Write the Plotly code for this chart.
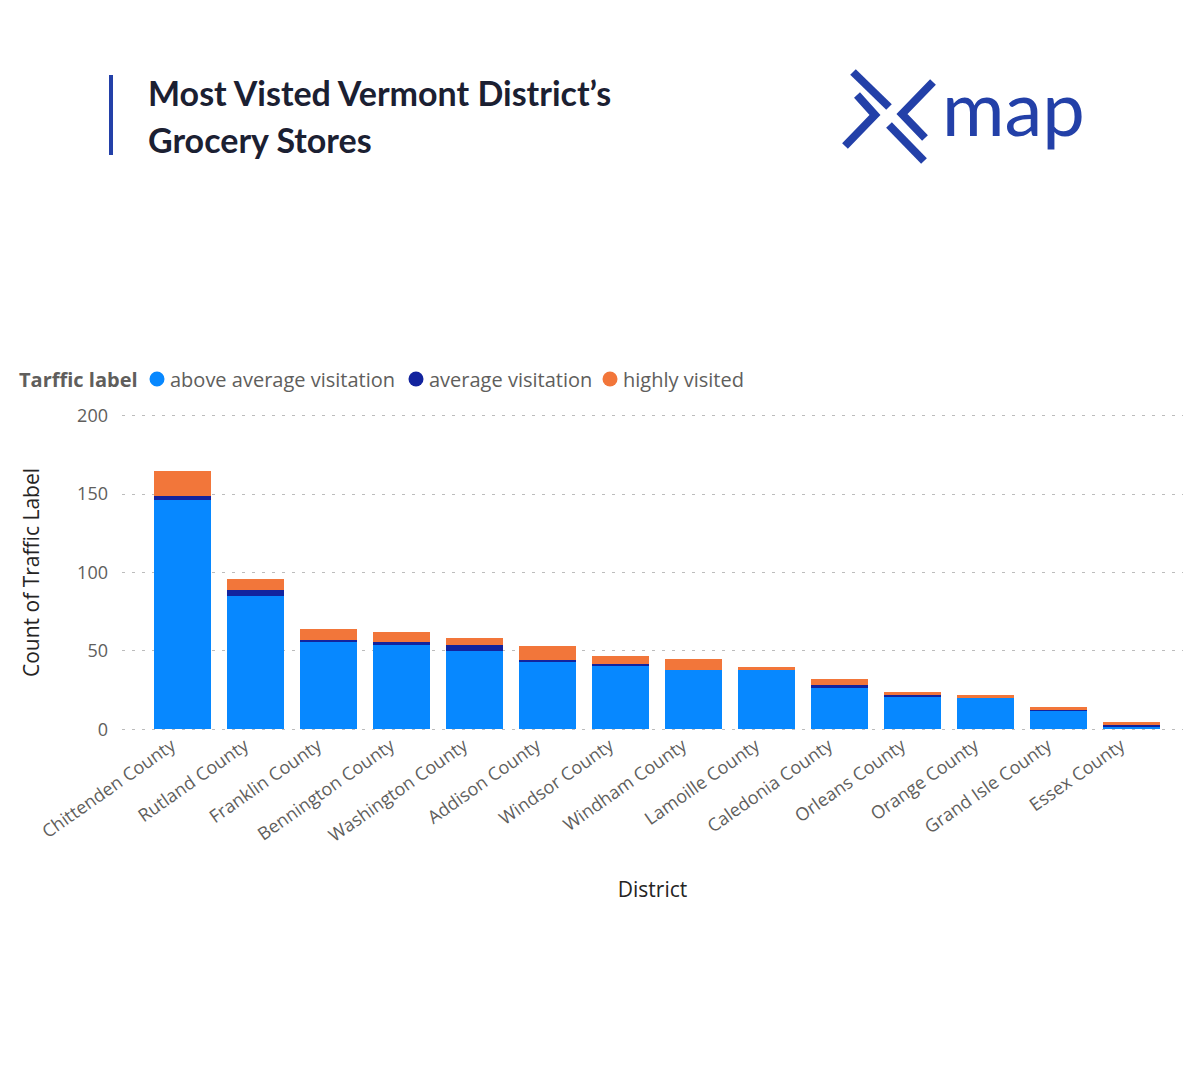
import plotly.graph_objects as go

# districts and counts per traffic label
districts = ['Chittenden County', 'Rutland County', 'Franklin County', 'Bennington County',
             'Washington County', 'Addison County', 'Windsor County', 'Windham County',
             'Lamoille County', 'Caledonia County', 'Orleans County', 'Orange County',
             'Grand Isle County', 'Essex County']
above_avg = [146, 85, 56, 54, 50, 43, 41, 38, 38, 27, 21, 20, 12, 2]
average = [3, 4, 1, 2, 4, 1, 1, 0, 0, 1, 1, 0, 1, 1]
highly = [16, 7, 7, 6, 4, 9, 5, 7, 2, 4, 2, 2, 1, 2]

labels = ['above average visitation', 'average visitation', 'highly visited']
colors = ['#0788FF', '#12239E', '#F2763A']

# page puts the figure 8px in from the corner, so work in screen pixels and shift
OFF = 8
W, H = 1200, 1080
L, R, T, B = 122 - OFF, 1183 - OFF, 414 - OFF, 731 - OFF


def px(x):
    return (x - OFF - L) / (R - L)


def py(y):
    return (B - (y - OFF)) / (B - T)


fig = go.Figure()
for name, vals, col in zip(labels, [above_avg, average, highly], colors):
    fig.add_trace(go.Bar(x=districts, y=vals, name=name, marker_color=col,
                         marker_line_width=0, showlegend=False))

font = 'Open Sans'
fig.update_layout(
    width=W, height=H,
    barmode='stack', bargap=0.22,
    plot_bgcolor='white', paper_bgcolor='white',
    margin=dict(l=L, r=W - R, t=T, b=H - B),
    font=dict(family=font, color='#605E5C'),
    showlegend=False,
)
fig.update_xaxes(
    range=[-0.83, 13.70], tickangle=-35, tickfont=dict(size=18, color='#605E5C'),
    ticklabelshift=-11,
    showgrid=False, showline=False, zeroline=False,
    title=dict(text='District', font=dict(size=21, color='#252423'), standoff=36),
    automargin=False,
)
fig.update_yaxes(
    range=[-1, 201], tickvals=[0, 50, 100, 150, 200], tickfont=dict(size=18, color='#605E5C'),
    showgrid=True, gridcolor='#BCBCBC', griddash='3px,7px', gridwidth=1,
    zeroline=False, showline=False, ticklabelstandoff=13,
    title=dict(text='Count of Traffic Label', font=dict(size=21, color='#252423'), standoff=31),
    automargin=False,
)

# legend drawn by hand so the dots sit tight against their labels
fig.add_annotation(text='<b>Tarffic label</b>', xref='paper', yref='paper', x=px(17), y=py(379),
                   xanchor='left', yanchor='middle', showarrow=False,
                   font=dict(family=font, size=20, color='#605E5C'))
for name, col, cx in zip(labels, colors, [157, 416, 610]):
    r = 7.5
    fig.add_shape(type='circle', xref='paper', yref='paper',
                  x0=px(cx - r), x1=px(cx + r), y0=py(379 + r), y1=py(379 - r),
                  fillcolor=col, line_width=0)
    fig.add_annotation(text=name, xref='paper', yref='paper', x=px(cx + 11), y=py(379),
                       xanchor='left', yanchor='middle', showarrow=False,
                       font=dict(family=font, size=20, color='#605E5C'))

# title block
fig.add_shape(type='line', xref='paper', yref='paper', x0=px(111), x1=px(111),
              y0=py(75), y1=py(155), line=dict(color='#2340A8', width=4))
for txt, yy in [('Most Visted Vermont District’s', 92), ('Grocery Stores', 139)]:
    fig.add_annotation(text=f'<b>{txt}</b>', xref='paper', yref='paper', x=px(146), y=py(yy),
                       xanchor='left', yanchor='middle', showarrow=False,
                       font=dict(family='Lato', size=34, color='#1B2032'))

# xmap logo
logo = '#2340A8'
strokes = [
    [(853, 72), (889, 107)],
    [(857, 95), (875, 115), (845, 146)],
    [(933, 82), (902, 114), (925, 138)],
    [(889, 125), (924, 161)],
]
for pts in strokes:
    path = 'M ' + ' L '.join(f'{px(x)},{py(y)}' for x, y in pts)
    fig.add_shape(type='path', xref='paper', yref='paper', path=path,
                  line=dict(color=logo, width=8))
fig.add_annotation(text='map', xref='paper', yref='paper', x=px(940), y=py(106),
                   xanchor='left', yanchor='middle', showarrow=False,
                   font=dict(family='Lato', size=76, color=logo))

fig.write_html('out.html')
